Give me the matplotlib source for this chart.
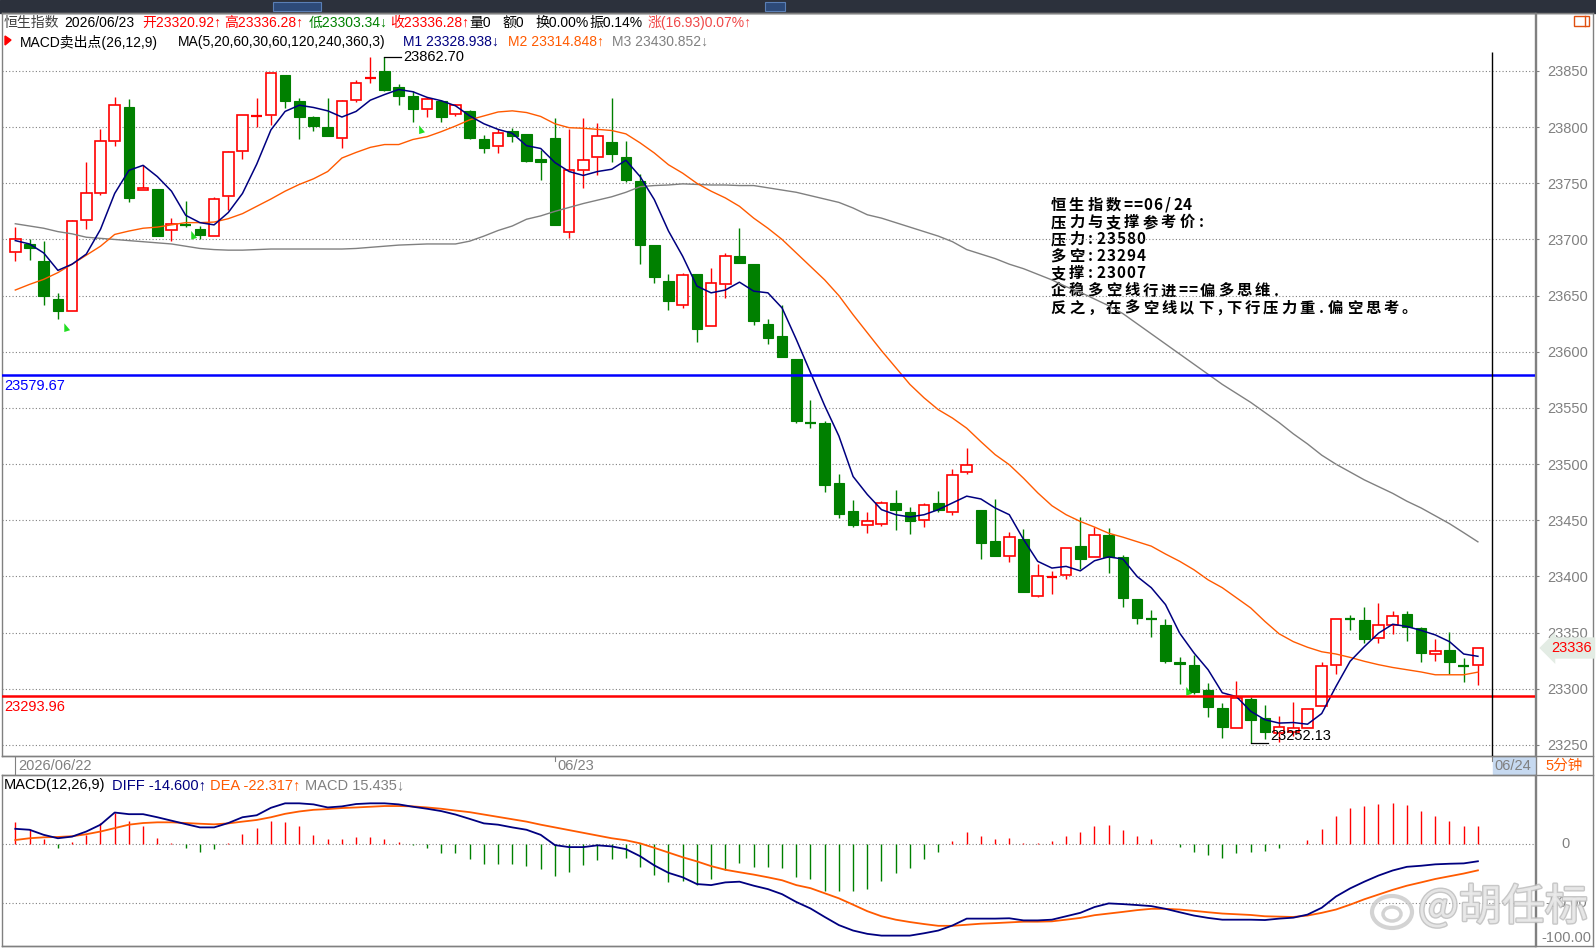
import numpy as np
import matplotlib.pyplot as plt
from matplotlib.patches import Rectangle, Ellipse, Polygon
import matplotlib.patheffects as pe

plt.rcParams['font.family'] = ['Liberation Sans', 'Noto Sans CJK SC', 'DejaVu Sans']

# ---- 5 minute bars (06/22 afternoon + 06/23 full day) ----
opens = [23689, 23696, 23681, 23647, 23636, 23717, 23741, 23788, 23818, 23744,
         23745, 23708, 23713, 23709, 23703, 23739, 23779, 23809, 23811, 23846,
         23823, 23809, 23800, 23790, 23824, 23843, 23850, 23836, 23828, 23816,
         23823, 23812, 23814, 23789, 23783, 23797, 23794, 23772, 23790, 23707,
         23762, 23773, 23787, 23773, 23752, 23695, 23663, 23642, 23669, 23623,
         23660, 23685, 23678, 23625, 23614, 23594, 23537.5, 23537, 23483, 23458,
         23446, 23447, 23465, 23457, 23450, 23465, 23457, 23493, 23459, 23432,
         23418, 23433, 23383, 23399.5, 23401, 23427, 23417, 23437, 23417, 23380,
         23363, 23357, 23324, 23321, 23299, 23283, 23265, 23291, 23274, 23261,
         23262, 23265, 23285, 23321, 23362.6, 23361, 23345, 23357, 23367, 23354,
         23331, 23335, 23320.7, 23320.92]
highs = [23711, 23700, 23699, 23652, 23717, 23769, 23798, 23827, 23825, 23766,
         23745, 23719, 23734, 23712, 23738, 23779, 23811, 23826, 23848, 23846,
         23826, 23810, 23826, 23824, 23842, 23862, 23862.7, 23838, 23832, 23827,
         23824, 23821, 23815, 23793, 23798, 23799, 23794, 23780, 23808, 23798,
         23808, 23804, 23826, 23788, 23758, 23695, 23669, 23670, 23669, 23675,
         23688, 23710, 23678, 23629, 23642, 23594, 23557, 23538, 23491, 23468,
         23457, 23467, 23477, 23462, 23465, 23476, 23496, 23514, 23459, 23469,
         23440, 23442, 23411, 23405, 23425, 23453, 23444, 23443, 23419, 23380,
         23370, 23362, 23328, 23330, 23305, 23287, 23307, 23293, 23286, 23276,
         23288, 23282, 23324, 23362, 23366, 23373, 23376, 23369, 23369, 23355,
         23344, 23351, 23327, 23336.28]
lows = [23681, 23682, 23642, 23629, 23636, 23709, 23740, 23783, 23733, 23744,
        23703, 23699, 23711, 23700, 23703, 23726, 23772, 23800, 23802, 23817,
        23789, 23797, 23792, 23781, 23822, 23839, 23832, 23820, 23805, 23809,
        23805, 23810, 23789, 23777, 23777, 23787, 23769, 23753, 23713, 23701,
        23746, 23757, 23769, 23751, 23678, 23661, 23637, 23639, 23609, 23623,
        23648, 23679, 23624, 23607, 23595, 23537, 23532, 23475, 23452, 23444,
        23439, 23445, 23441, 23438, 23444, 23457, 23455, 23491, 23416, 23418,
        23413, 23386, 23382, 23384, 23398, 23407, 23417, 23403, 23373, 23358,
        23346, 23323, 23304, 23295, 23275, 23256, 23265, 23252.13, 23255, 23253,
        23258, 23265, 23285, 23313, 23352, 23341, 23341, 23349, 23343, 23324,
        23325, 23313, 23306, 23303.34]
closes = [23700, 23692, 23650, 23636, 23716, 23741, 23788, 23820, 23737, 23746,
          23703, 23714, 23712, 23704, 23736, 23778, 23811, 23810, 23848, 23823,
          23809, 23801, 23792, 23823, 23839, 23844, 23833, 23828, 23816, 23825,
          23809, 23820, 23790, 23781, 23795, 23792, 23770, 23769, 23713, 23762,
          23771, 23792, 23776, 23753, 23695, 23667, 23645, 23668, 23620, 23661,
          23685, 23679, 23627, 23612, 23595, 23538, 23536.5, 23481, 23456, 23446,
          23449, 23465, 23459, 23449, 23464, 23459, 23490, 23499, 23430, 23418,
          23435, 23386, 23400, 23400, 23425, 23416, 23437, 23417, 23381, 23363,
          23362, 23325, 23322, 23297, 23284, 23266, 23292, 23272, 23262, 23266,
          23265, 23282, 23320, 23362, 23362, 23344, 23357, 23365, 23355, 23332,
          23334, 23324, 23320.1, 23336.28]

# moving averages (M1, M2, M3)
ma_m1 = [23699, 23696, 23688, 23672.5, 23678, 23687, 23709, 23741, 23761.5, 23766,
         23756, 23743, 23721.5, 23715, 23713, 23724, 23741, 23767, 23797.5, 23814,
         23819.5, 23817.5, 23814.5, 23809, 23814, 23824, 23829, 23833.5, 23831.5, 23826.5,
         23823.5, 23819, 23810, 23803, 23798, 23794.5, 23783.5, 23781, 23768.5, 23760.5,
         23757, 23760.5, 23762.5, 23770.5, 23756, 23735.5, 23707.5, 23685, 23658.5, 23652.5,
         23655, 23662, 23654, 23652.5, 23639, 23611, 23581.5, 23552, 23525, 23489,
         23473, 23459.5, 23455, 23453, 23455, 23459.5, 23465.5, 23471.5, 23469, 23461,
         23455, 23433, 23413.5, 23407.5, 23409, 23405, 23414, 23417.5, 23415.5, 23400,
         23390, 23375, 23349.5, 23332, 23317, 23296.5, 23293, 23280, 23272.5, 23269.5,
         23270, 23268.5, 23278, 23302, 23324.5, 23337.5, 23349.5, 23357.5, 23355.5, 23352,
         23348, 23342, 23331, 23328.94]
ma_m2 = [23655, 23660, 23664.5, 23670.5, 23678, 23686, 23694, 23704.5, 23707.5, 23710,
         23711, 23713, 23715, 23715, 23715.5, 23718.5, 23723, 23729.5, 23736, 23743,
         23749, 23754, 23760.5, 23772.5, 23777.5, 23782, 23784.5, 23784.5, 23789, 23791.5,
         23796, 23801, 23806.5, 23810, 23813.5, 23814.5, 23813, 23809.5, 23803, 23799.5,
         23799, 23798, 23797, 23794, 23786, 23777, 23766.5, 23759, 23750, 23743,
         23737, 23729.5, 23719, 23710, 23700, 23688, 23676, 23664, 23650, 23633,
         23617, 23601, 23586, 23571, 23559, 23548.5, 23541, 23532, 23520, 23508.5,
         23499.5, 23487.5, 23474.5, 23463, 23455, 23449, 23444, 23438.5, 23435, 23431,
         23427, 23420, 23413.5, 23406, 23397, 23390, 23381, 23372, 23360, 23349,
         23342, 23337, 23333, 23331, 23328, 23324.5, 23321.5, 23319, 23317, 23315,
         23312.5, 23312.5, 23312.5, 23314.85]
ma_m3 = [23714, 23712, 23710, 23707, 23705, 23702, 23701, 23700, 23699, 23698,
         23697, 23696, 23694, 23692, 23691, 23690.5, 23690.5, 23691, 23691.5, 23691.5,
         23691.5, 23691.5, 23691.5, 23691.5, 23692, 23693, 23694, 23695, 23695.5, 23696,
         23696, 23696, 23698.5, 23703, 23708, 23712, 23718, 23721, 23725, 23728.5,
         23732, 23735, 23738, 23742, 23747, 23748, 23748.5, 23749.5, 23749, 23748.5,
         23748.5, 23748, 23748, 23746, 23744, 23742, 23739, 23736, 23733, 23728,
         23722, 23719, 23715, 23711, 23707, 23703, 23698, 23691, 23687, 23683,
         23678, 23674, 23669, 23664, 23658, 23653, 23647, 23641, 23634, 23625,
         23616, 23607, 23598, 23589, 23580, 23571, 23563, 23555, 23546, 23537,
         23527, 23518, 23508, 23500, 23493, 23486, 23480, 23474, 23467, 23461,
         23454, 23447, 23439, 23430.85]

# MACD panel
diff = [12.9, 12.1, 7.8, 4.9, 6.3, 10.6, 16.4, 26.7, 25.3, 25.3,
        22.7, 19.8, 16.9, 14.1, 14.1, 17.8, 22.7, 24.4, 30.7, 34.5,
        34.5, 33.6, 31.0, 31.9, 33.9, 34.5, 34.5, 33.6, 31.6, 29.9,
        27.9, 25.0, 21.3, 17.5, 16.4, 14.1, 12.1, 7.8, -0.9, -2.6,
        -2.6, -1.1, -2.0, -4.3, -10.3, -18.1, -24.4, -28.2, -33.9, -34.8,
        -32.5, -31.9, -35.3, -38.2, -42.5, -49.1, -54.6, -61.8, -68.7, -73.3,
        -76.1, -77.6, -77.6, -77.6, -75.6, -73.3, -69.0, -63.2, -63.2, -63.2,
        -62.9, -64.7, -64.7, -64.1, -61.2, -58.3, -53.4, -50.3, -50.9, -51.7,
        -52.6, -54.9, -57.8, -60.6, -62.6, -64.1, -64.1, -64.1, -64.4, -63.2,
        -62.4, -59.8, -54.0, -44.5, -37.6, -31.9, -26.7, -22.4, -19.3, -18.4,
        -17.2, -16.7, -16.4, -14.6]
dea = [3.4, 4.9, 5.7, 6.0, 6.6, 8.3, 10.6, 13.5, 16.4, 17.8,
       18.4, 18.4, 17.8, 17.2, 16.7, 17.5, 19.0, 20.4, 22.7, 25.6,
       27.6, 29.0, 29.6, 30.5, 31.0, 31.6, 32.2, 32.2, 31.9, 31.0,
       29.9, 28.4, 27.0, 25.0, 23.0, 21.0, 19.0, 16.4, 14.1, 11.8,
       9.5, 7.2, 4.9, 3.2, 0.6, -3.2, -7.2, -11.2, -14.7, -18.7,
       -21.8, -23.9, -25.9, -28.2, -30.7, -34.8, -37.4, -41.7, -46.0, -51.4,
       -56.9, -61.2, -64.1, -66.1, -67.8, -69.3, -69.3, -68.4, -67.5, -67.0,
       -66.4, -65.8, -65.8, -65.5, -64.1, -62.6, -60.3, -58.9, -57.5, -56.0,
       -54.9, -54.9, -55.5, -56.6, -57.8, -58.9, -59.5, -60.1, -61.2, -61.5,
       -61.8, -60.6, -58.3, -55.5, -51.4, -46.8, -42.8, -38.8, -35.3, -32.5,
       -29.6, -27.3, -25.0, -22.3]
macd_bar = [18.7, 12.9, 4.0, -3.2, 2.0, 7.8, 17.8, 26.7, 19.3, 14.9,
            5.5, 0.6, -3.2, -6.6, -4.6, 1.1, 8.9, 13.2, 19.3, 18.4,
            14.9, 7.5, 4.6, 4.6, 6.3, 6.0, 4.6, 2.0, -1.1, -3.2,
            -7.5, -7.8, -12.6, -16.7, -16.7, -16.7, -18.7, -21.0, -26.7, -23.9,
            -18.1, -13.5, -12.9, -11.8, -19.3, -25.9, -31.9, -31.3, -34.8, -29.9,
            -21.8, -15.8, -19.3, -19.8, -20.1, -28.0, -29.9, -40.0, -40.0, -40.2,
            -38.2, -31.0, -24.7, -20.1, -12.6, -6.6, 2.3, 9.8, 7.2, 4.6,
            5.5, 1.1, 1.1, 2.3, 7.2, 10.1, 15.2, 15.8, 11.5, 7.2,
            4.6, 0.0, -2.3, -6.6, -8.9, -11.8, -8.0, -6.6, -5.5, -3.2,
            0.3, 3.7, 12.4, 23.6, 30.5, 32.2, 34.2, 34.8, 33.0, 28.2,
            23.6, 19.3, 14.9, 15.4]

price_ticks = [23250, 23300, 23350, 23400, 23450, 23500, 23550, 23600, 23650, 23700, 23750, 23800, 23850]
macd_ticks = ['0', '-50.00', '-100.00']
macd_tick_vals = [0, -50, -80]
pressure_level = 23579.67
pivot_level = 23293.96
high_idx, high_val = 26, 23862.70
low_idx, low_val = 87, 23252.13
last_price = 23336
signal_x = [3.45, 12.39, 28.44, 82.46]
signal_price = [23621.5, 23703.7, 23797.7, 23297.8]
date_labels = ['2026/06/22', '06/23', '06/24']
date_idx = [0, 38, 104]
cursor_idx = 104

header_top = ['恒生指数', '2026/06/23', '开23320.92↑', '高23336.28↑', '低23303.34↓', '收23336.28↑',
              '量0', '额0', '换0.00%', '振0.14%', '涨(16.93)0.07%↑']
header_ma = ['MACD卖出点(26,12,9)', 'MA(5,20,60,30,60,120,240,360,3)',
             'M1 23328.938↓', 'M2 23314.848↑', 'M3 23430.852↓']
macd_header = ['MACD(12,26,9)', 'DIFF -14.600↑', 'DEA -22.317↑', 'MACD 15.435↓']
note_lines = ['恒生指数==06/24', '压力与支撑参考价:', '压力:23580', '多空:23294', '支撑:23007',
              '企稳多空线行进==偏多思维.', '反之，在多空线以下,下行压力重.偏空思考。']

RED = '#ff0000'
GREEN = '#008000'
NAVY = '#000080'
ORANGE = '#ff5a00'
GRAY = '#808080'

W, H = 1596, 950
fig = plt.figure(figsize=(W / 100, H / 100), dpi=100)


def box(l, t, r, b):
    return [l / W, 1 - b / H, (r - l) / W, (b - t) / H]


x0, step = 15.3, 14.2   # pixel x of bar 0, bar spacing


def bar_px(i):
    return x0 + step * i


# background layer in pixel coordinates
bg = fig.add_axes([0, 0, 1, 1], zorder=-1)
bg.set_xlim(0, W)
bg.set_ylim(H, 0)
bg.axis('off')
bg.add_patch(Rectangle((0, 0), W, 12.5, color='#2c313c'))
bg.add_patch(Rectangle((273, 2), 48, 9, fc='#2d4a78', ec='#5a7fb5', lw=0.8))
bg.add_patch(Rectangle((765, 2), 20, 9, fc='#2d4a78', ec='#5a7fb5', lw=0.8))
bg.add_patch(Rectangle((1574, 15.5), 15, 10, fill=False, ec='#e05010', lw=1))
bg.plot([1585, 1585], [15.5, 25.5], color='#e05010', lw=1)
for yy in [13, 756, 775, 946]:
    bg.plot([2, 1593], [yy, yy], color=GRAY, lw=1)
bg.plot([1593, 1593], [13, 946], color=GRAY, lw=1)
bg.plot([1535.5, 1535.5], [13, 946], color=GRAY, lw=1)

# header rows
top_x = [4, 64, 142, 224.5, 308.5, 390, 469, 502.5, 535.5, 589, 648]
top_c = ['#404040', 'black', RED, RED, GREEN, RED, 'black', 'black', 'black', 'black', '#f04848']
for s, xx, cc in zip(header_top, top_x, top_c):
    bg.text(xx, 23, s, color=cc, fontsize=10, va='center', ha='left')
bg.add_patch(Polygon([(5, 36), (5, 45), (11, 40)], closed=True, color=RED))
ma_x = [19.5, 177.5, 403, 507.5, 612]
ma_c = ['black', 'black', NAVY, ORANGE, GRAY]
for s, xx, cc in zip(header_ma, ma_x, ma_c):
    bg.text(xx, 42, s, color=cc, fontsize=10, va='center', ha='left')

# note block, fixed-pitch like the original
for k, line in enumerate(note_lines):
    cx = 1049
    for ch in line:
        adv = 10 if ord(ch) < 128 else 18.4
        bg.text(cx + adv / 2, 205 + 17.1 * k, ch, ha='center', va='center', fontsize=11,
                fontweight='bold', family=['Noto Sans CJK SC', 'DejaVu Sans'], color='black')
        cx += adv

# date band
for lab, di in zip(date_labels, date_idx):
    px = bar_px(di)
    if di == date_idx[-1]:
        bg.add_patch(Rectangle((px + 1, 757), 1535 - px - 1, 17, color='#c6d9f0'))
    bg.plot([px, px], [757, 774 if di == 0 else 761], color=GRAY, lw=0.8)
    bg.text(px + 2.5, 765.5, lab, color=GRAY, fontsize=10.5, va='center', ha='left')
bg.text(1545, 765.5, '5分钟', color=ORANGE, fontsize=10.5, va='center', ha='left')

# MACD header + right labels
mh_x = [4, 112, 210, 305]
mh_c = ['black', NAVY, ORANGE, GRAY]
for s, xx, cc in zip(macd_header, mh_x, mh_c):
    bg.text(xx, 785, s, color=cc, fontsize=10.5, va='center', ha='left')

# ---- main price panel ----
ax = fig.add_axes(box(2, 13, 1535, 756))
ax.set_facecolor('none')
xlim = ((2 - x0) / step, (1535 - x0) / step)
ax.set_xlim(*xlim)
ylo, yhi = 23240.2, 23901.6
ax.set_ylim(ylo, yhi)
for p in price_ticks:
    ax.axhline(p, color=GRAY, lw=0.8, ls=(0, (1, 2)), zorder=0)

bw = 0.74
for i, (o, h, l, c) in enumerate(zip(opens, highs, lows, closes)):
    if abs(c - o) <= 1.2:
        col = RED if c >= o else GREEN
        ax.vlines(i, l, h, color=col, lw=1.0, zorder=2)
        ax.hlines((o + c) / 2, i - bw / 2, i + bw / 2, color=col, lw=1.6, zorder=2)
    elif c > o:
        ax.vlines(i, c, h, color=RED, lw=1.0, zorder=2)
        ax.vlines(i, l, o, color=RED, lw=1.0, zorder=2)
        ax.add_patch(Rectangle((i - bw / 2, o), bw, c - o, fc='white', ec=RED, lw=1.2, zorder=2))
    else:
        ax.vlines(i, l, h, color=GREEN, lw=1.0, zorder=2)
        ax.add_patch(Rectangle((i - bw / 2, c), bw, o - c, fc=GREEN, ec=GREEN, lw=0.8, zorder=2))

idx = np.arange(len(closes))
ax.plot(idx, ma_m3, color=GRAY, lw=1.0, zorder=3)
ax.plot(idx, ma_m2, color=ORANGE, lw=1.0, zorder=3)
ax.plot(idx, ma_m1, color=NAVY, lw=1.1, zorder=3)

ax.axhline(pressure_level, color='#0000ff', lw=1.8, zorder=4)
ax.axhline(pivot_level, color=RED, lw=1.8, zorder=4)
ax.annotate(f'{pressure_level:.2f}', (xlim[0] + 0.14, pressure_level), xytext=(0, -3),
            textcoords='offset points', color='#0000ff', fontsize=10.5, va='top', ha='left')
ax.annotate(f'{pivot_level:.2f}', (xlim[0] + 0.14, pivot_level), xytext=(0, -3),
            textcoords='offset points', color=RED, fontsize=10.5, va='top', ha='left')

ax.plot([high_idx, high_idx + 1.16], [high_val, high_val], color='black', lw=0.9, zorder=5)
ax.text(high_idx + 1.3, high_val, f'{high_val:.2f}', fontsize=10.5, va='center', ha='left', zorder=5)
ax.plot([low_idx, low_idx + 1.2], [low_val, low_val], color='black', lw=0.9, zorder=5)
ax.text(low_idx + 1.35, low_val, f'{low_val:.2f}', fontsize=10.5, va='bottom', ha='left', zorder=5)

ax.scatter(signal_x, signal_price, marker=[(0, 0.6), (0, -0.6), (0.8, -0.35)], s=70,
           color='#22dd22', edgecolors='none', zorder=6)

ax.vlines(cursor_idx, ylo, 23866.9, color='black', lw=1.0, zorder=5)

ax.yaxis.tick_right()
ax.set_yticks(price_ticks)
ax.set_yticklabels([str(p) for p in price_ticks])
ax.tick_params(axis='y', direction='out', length=3, width=0.8, color=GRAY,
               labelcolor=GRAY, labelsize=10.5, pad=6)
ax.set_xticks([])
for sp in ax.spines.values():
    sp.set_color(GRAY)
    sp.set_linewidth(1)

# ---- MACD panel ----
am = fig.add_axes(box(2, 775, 1535, 946))
am.set_facecolor('none')
am.set_xlim(*xlim)
am.set_ylim(-86.4, 58.5)
am.axhline(0, color=GRAY, lw=0.8, ls=(0, (1, 2)), zorder=0)
am.axhline(-50, color=GRAY, lw=0.8, ls=(0, (1, 2)), zorder=0)
for i, v in enumerate(macd_bar):
    am.vlines(i, 0, v, color=RED if v >= 0 else GREEN, lw=1.0)
am.plot(idx, dea, color=ORANGE, lw=1.3)
am.plot(idx, diff, color=NAVY, lw=1.3)
am.set_xticks([])
am.set_yticks([])
for sp in am.spines.values():
    sp.set_color(GRAY)
    sp.set_linewidth(1)
for lab, v in zip(macd_ticks, macd_tick_vals):
    py = 844 - v * 1.18
    bg.text(1566, py, lab, color=GRAY, fontsize=10.5, ha='center', va='center')

# ---- overlay: price tag and watermark ----
ov = fig.add_axes([0, 0, 1, 1], zorder=10)
ov.set_xlim(0, W)
ov.set_ylim(H, 0)
ov.axis('off')
ov.text(1551, 648, str(last_price), color=RED, fontsize=10.5, va='center', ha='left',
        bbox=dict(boxstyle='larrow,pad=0.25', fc='#e3ece4', ec='none'))
ov.add_patch(Ellipse((1392, 912), 40, 32, fill=False, ec='#c8c8c8', lw=3, alpha=0.8))
ov.add_patch(Ellipse((1392, 914), 18, 14, fill=False, ec='#c8c8c8', lw=2.5, alpha=0.8))
ov.text(1418, 908, '@胡任标', fontsize=31, color='#ececec', ha='left', va='center',
        family=['Noto Sans CJK SC', 'DejaVu Sans'], alpha=0.85,
        path_effects=[pe.withStroke(linewidth=2, foreground='#bdbdbd')])

fig.savefig('out.png', dpi=100)
